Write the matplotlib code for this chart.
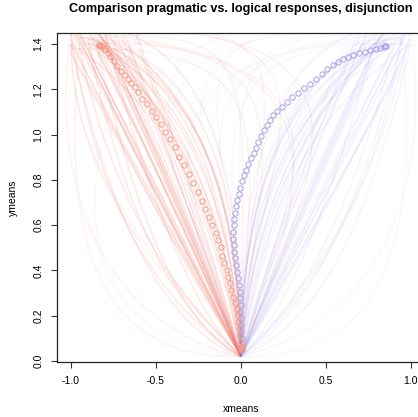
import matplotlib
matplotlib.use("Agg")
import matplotlib.pyplot as plt
from matplotlib.path import Path
from matplotlib.patches import PathPatch

plt.rcParams['font.family'] = ['Liberation Sans', 'DejaVu Sans']
plt.rcParams['axes.unicode_minus'] = False

# mean trajectories (time normalised), pragmatic = red, logical = blue
red_x = [-0.837, -0.835, -0.830, -0.825, -0.818, -0.808, -0.798, -0.784, -0.769, -0.749,
         -0.729, -0.706, -0.684, -0.666, -0.647, -0.625, -0.606, -0.582, -0.553, -0.525,
         -0.498, -0.472, -0.445, -0.419, -0.388, -0.363, -0.335, -0.308, -0.282, -0.255,
         -0.229, -0.210, -0.188, -0.169, -0.149, -0.134, -0.119, -0.110, -0.098, -0.084,
         -0.075, -0.065, -0.055, -0.045, -0.035, -0.025, -0.019, -0.014, -0.006, -0.002,
         0.004, 0.008, 0.008, 0.008, 0.007, 0.006]
red_y = [1.397, 1.396, 1.394, 1.391, 1.386, 1.379, 1.372, 1.360, 1.346, 1.324,
         1.302, 1.282, 1.265, 1.246, 1.228, 1.209, 1.187, 1.157, 1.134, 1.106,
         1.077, 1.047, 1.012, 0.981, 0.944, 0.902, 0.866, 0.825, 0.785, 0.745,
         0.708, 0.670, 0.635, 0.601, 0.567, 0.534, 0.502, 0.465, 0.432, 0.402,
         0.372, 0.343, 0.314, 0.284, 0.258, 0.230, 0.203, 0.174, 0.144, 0.115,
         0.085, 0.065, 0.058, 0.054, 0.051, 0.050]

blue_x = [0.008, 0.006, 0.004, 0.002, 0.000, -0.002, 0.000, -0.002, -0.006, -0.010,
          -0.016, -0.022, -0.029, -0.035, -0.039, -0.042, -0.044, -0.044, -0.042, -0.038,
          -0.033, -0.027, -0.020, -0.012, -0.004, 0.006, 0.017, 0.030, 0.045, 0.060,
          0.075, 0.090, 0.104, 0.118, 0.135, 0.152, 0.170, 0.190, 0.213, 0.240,
          0.270, 0.302, 0.336, 0.370, 0.405, 0.440, 0.476, 0.510, 0.543, 0.572,
          0.600, 0.630, 0.662, 0.696, 0.730, 0.763, 0.795, 0.822, 0.842, 0.852, 0.857]
blue_y = [0.060, 0.100, 0.130, 0.160, 0.190, 0.215, 0.247, 0.277, 0.306, 0.336,
          0.365, 0.394, 0.424, 0.453, 0.483, 0.512, 0.541, 0.571, 0.600, 0.628,
          0.655, 0.683, 0.710, 0.738, 0.765, 0.793, 0.820, 0.845, 0.870, 0.895,
          0.918, 0.943, 0.968, 0.994, 1.020, 1.044, 1.066, 1.086, 1.105, 1.124,
          1.144, 1.164, 1.184, 1.204, 1.225, 1.246, 1.268, 1.289, 1.307, 1.321,
          1.333, 1.343, 1.351, 1.359, 1.366, 1.372, 1.378, 1.383, 1.387, 1.390, 1.393]

# individual trajectories, all leaving the start box at (0, 0.02)
start = (0.0, 0.02)
# smooth ones: (control x, control y, end x, end y)
red_trials = [
    (-0.45, 0.70, -0.95, 1.45), (-0.40, 0.72, -0.88, 1.42), (-0.38, 0.68, -0.80, 1.40),
    (-0.48, 0.66, -1.00, 1.40), (-0.35, 0.75, -0.78, 1.46), (-0.42, 0.62, -0.90, 1.38),
    (-0.30, 0.70, -0.70, 1.43), (-0.50, 0.75, -1.00, 1.48), (-0.36, 0.64, -0.84, 1.36),
    (-0.44, 0.78, -0.92, 1.50), (-0.33, 0.66, -0.75, 1.39), (-0.47, 0.70, -0.98, 1.43),
    (-0.28, 0.62, -0.66, 1.40), (-0.41, 0.69, -0.86, 1.44), (-0.39, 0.74, -0.82, 1.47),
    (-0.52, 0.68, -1.00, 1.36), (-0.25, 0.72, -0.62, 1.45), (-0.43, 0.60, -0.94, 1.41),
    (-0.37, 0.71, -0.80, 1.42), (-0.46, 0.73, -0.96, 1.46),
    (-0.55, 0.80, -1.00, 1.50), (-0.32, 0.80, -0.72, 1.50), (-0.40, 0.55, -0.95, 1.30),
    (-0.22, 0.60, -0.60, 1.38), (-0.34, 0.70, -0.85, 1.48), (-0.45, 0.85, -0.90, 1.55),
    (-0.30, 0.58, -0.78, 1.34), (-0.27, 0.66, -0.74, 1.44), (-0.50, 0.62, -1.00, 1.42),
    (-0.36, 0.77, -0.88, 1.52),
    (-0.05, 1.00, -0.85, 1.42), (0.00, 1.20, -0.90, 1.40), (-0.10, 0.90, -0.80, 1.45),
    (0.02, 1.35, -0.95, 1.43), (-0.08, 1.10, -0.75, 1.38), (-0.15, 0.95, -0.88, 1.47),
    (0.00, 1.00, -0.70, 1.41), (-0.03, 1.30, -1.00, 1.44), (-0.12, 1.05, -0.92, 1.40),
    (-0.20, 0.85, -0.82, 1.43), (-0.06, 0.80, -0.85, 1.45), (-0.02, 1.15, -0.80, 1.43),
    (-0.10, 1.20, -0.95, 1.42), (0.03, 1.40, -0.85, 1.48), (-0.18, 1.00, -1.00, 1.40),
    (-0.25, 1.10, -0.90, 1.44),
    (-0.60, 0.30, -0.90, 1.42), (-0.50, 0.20, -0.85, 1.40), (-0.80, 0.40, -1.00, 1.45),
    (-0.70, 0.50, -0.95, 1.38), (-0.65, 0.20, -1.00, 1.40), (-0.40, 0.30, -0.80, 1.45),
]
blue_trials = [
    (0.45, 0.70, 0.92, 1.42), (0.40, 0.72, 0.85, 1.45), (0.35, 0.68, 0.80, 1.40),
    (0.50, 0.66, 1.00, 1.40), (0.30, 0.75, 0.75, 1.46), (0.42, 0.62, 0.95, 1.38),
    (0.25, 0.70, 0.70, 1.43), (0.48, 0.76, 1.00, 1.48), (0.38, 0.64, 0.88, 1.36),
    (0.44, 0.78, 0.90, 1.50),
    (0.55, 0.80, 1.00, 1.50), (0.32, 0.80, 0.72, 1.50), (0.40, 0.55, 0.95, 1.30),
    (0.22, 0.60, 0.60, 1.38), (0.34, 0.70, 0.85, 1.48), (0.45, 0.85, 0.90, 1.55),
    (0.30, 0.58, 0.78, 1.34), (0.27, 0.66, 0.74, 1.44), (0.50, 0.62, 1.00, 1.42),
    (0.36, 0.77, 0.88, 1.52),
    (0.05, 1.00, 0.85, 1.42), (0.00, 1.20, 0.90, 1.40), (0.10, 0.90, 0.80, 1.45),
    (-0.02, 1.30, 0.95, 1.43), (0.08, 1.10, 0.75, 1.38), (0.15, 0.95, 0.88, 1.47),
    (0.00, 1.00, 0.70, 1.41), (0.03, 1.35, 1.00, 1.44), (0.12, 1.05, 0.92, 1.40),
    (0.20, 0.85, 0.82, 1.43), (-0.05, 0.90, 0.85, 1.40), (0.00, 0.80, 0.78, 1.45),
    (0.06, 0.80, 0.85, 1.45), (0.02, 1.15, 0.80, 1.43), (0.10, 1.20, 0.95, 1.42),
    (-0.03, 1.40, 0.85, 1.48), (0.18, 1.00, 1.00, 1.40), (0.25, 1.10, 0.90, 1.44),
    (0.60, 0.30, 0.95, 1.42), (0.70, 0.45, 1.00, 1.46), (0.55, 0.35, 0.90, 1.38),
    (0.65, 0.20, 1.00, 1.40), (0.40, 0.30, 0.80, 1.45), (0.80, 0.60, 0.95, 1.45),
]
# trials with a change of mind or a wide detour: (c1x, c1y, c2x, c2y, end x, end y)
red_detours = [
    (0.30, 0.60, 0.80, 1.40, -0.90, 1.42), (0.10, 0.90, 0.50, 1.45, -0.95, 1.40),
    (0.20, 0.70, 0.90, 1.30, -0.80, 1.44), (0.05, 1.00, 0.30, 1.40, -1.00, 1.38),
    (0.40, 0.80, 1.00, 1.50, -0.85, 1.46), (-1.00, 0.20, -1.10, 1.00, -1.00, 1.45),
    (-0.90, 0.00, -1.05, 0.60, -0.95, 1.42), (-0.50, 0.40, -1.00, 0.80, -1.00, 1.45),
    (-0.60, 0.50, -1.00, 0.90, -1.00, 1.40), (0.05, 1.20, 0.60, 1.55, -0.90, 1.45),
    (0.00, 1.30, 0.20, 1.50, -1.00, 1.42), (0.15, 1.10, 0.70, 1.40, -0.70, 1.50),
]
blue_detours = [
    (-0.30, 0.60, -0.80, 1.40, 0.90, 1.42), (-0.10, 0.90, -0.50, 1.45, 0.95, 1.40),
    (-0.20, 0.70, -0.90, 1.30, 0.80, 1.44), (-0.40, 0.80, -1.00, 1.50, 0.85, 1.46),
    (1.00, 0.20, 1.10, 1.00, 1.00, 1.45), (0.90, 0.00, 1.05, 0.60, 0.95, 1.42),
    (-0.05, 1.00, -0.30, 1.42, 0.98, 1.40), (-0.95, 0.10, -1.05, 0.70, -0.60, 1.45),
    (-0.05, 1.20, -0.60, 1.55, 0.90, 1.45), (0.00, 1.30, -0.20, 1.50, 1.00, 1.42),
    (-0.15, 1.10, -0.70, 1.40, 0.70, 1.50), (-0.50, 1.20, -0.90, 1.50, 0.85, 1.50),
]

fig = plt.figure(figsize=(4.18, 4.17), dpi=100)
ax = fig.add_axes([0.1364, 0.1319, 0.8794, 0.7890])


def draw_trials(trials, detours, color, alpha):
    for cx, cy, ex, ey in trials:
        p = Path([start, (cx, cy), (ex, ey)], [Path.MOVETO, Path.CURVE3, Path.CURVE3])
        ax.add_patch(PathPatch(p, fc='none', ec=color, lw=1.0, alpha=alpha))
    for c1x, c1y, c2x, c2y, ex, ey in detours:
        p = Path([start, (c1x, c1y), (c2x, c2y), (ex, ey)],
                 [Path.MOVETO, Path.CURVE4, Path.CURVE4, Path.CURVE4])
        ax.add_patch(PathPatch(p, fc='none', ec=color, lw=1.0, alpha=alpha * 0.6))


draw_trials(red_trials, red_detours, '#f4796a', 0.17)
draw_trials(blue_trials, blue_detours, '#8c80ea', 0.09)

ax.plot(blue_x, blue_y, 'o', mfc='none', mec='#a3a1ea', ms=3.8, mew=0.7)
ax.plot(red_x, red_y, 'o', mfc='none', mec='#f69a84', ms=3.8, mew=0.7)

ax.set_xlim(-1.0824, 1.0824)
ax.set_ylim(-0.0044, 1.4488)
ax.set_xticks([-1.0, -0.5, 0.0, 0.5, 1.0])
ax.set_yticks([0.0, 0.2, 0.4, 0.6, 0.8, 1.0, 1.2, 1.4])
ax.xaxis.set_major_formatter(matplotlib.ticker.FormatStrFormatter('%.1f'))
ax.yaxis.set_major_formatter(matplotlib.ticker.FormatStrFormatter('%.1f'))
ax.tick_params(direction='out', length=4, width=0.8, labelsize=7.5, pad=6, color='#333333')
for lab in ax.get_yticklabels():
    lab.set_rotation(90)
    lab.set_va('center')
for s in ax.spines.values():
    s.set_linewidth(0.9)
    s.set_color('#222222')

ax.set_xlabel('xmeans', fontsize=7.5)
ax.set_ylabel('ymeans', fontsize=7.5)
ax.xaxis.set_label_coords(0.5, -0.128)
ax.yaxis.set_label_coords(-0.106, 0.5)
ax.set_title('Comparison pragmatic vs. logical responses, disjunction',
             fontsize=9.1, fontweight='bold', pad=15)

fig.savefig('out.png', dpi=100)
